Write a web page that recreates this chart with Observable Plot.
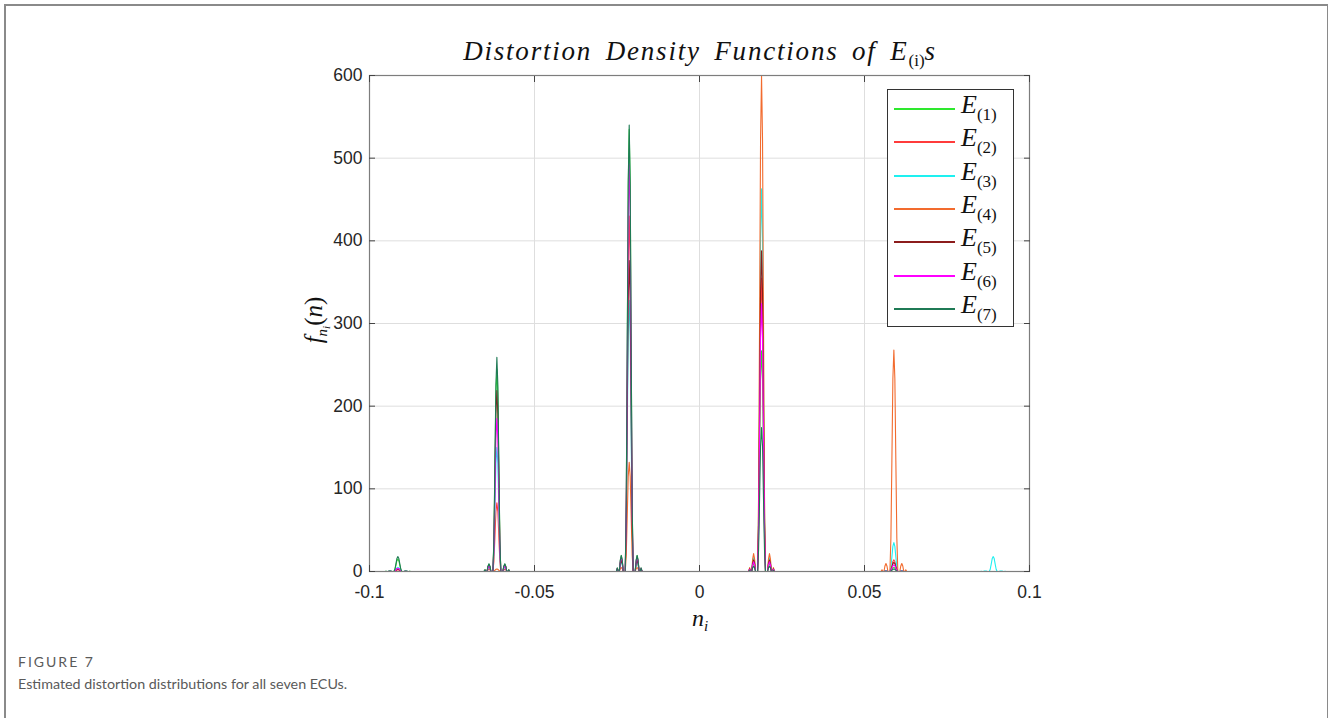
<!DOCTYPE html>
<html>
<head>
<meta charset="utf-8">
<script src="https://cdn.jsdelivr.net/npm/d3@7"></script>
<script src="https://cdn.jsdelivr.net/npm/@observablehq/plot@0.6"></script>
<style>
  html, body { margin: 0; padding: 0; background: #fff; }
  #page { position: relative; width: 1328px; height: 718px; overflow: hidden; }
  #border { position: absolute; left: 4px; top: 4px; width: 1321px; height: 740px;
            border-left: 2px solid #8a8a8a; border-top: 2px solid #8a8a8a; border-right: 2px solid #8a8a8a; }
  #chart { position: absolute; left: 0; top: 0; }
  .math { font-family: "Liberation Serif", "Times New Roman", serif; color: #111; position: absolute; white-space: nowrap; }
  .it { font-style: italic; }
  #title { left: 0; width: 1400px; text-align: center; top: 36px; font-size: 27px; font-style: italic; letter-spacing: 1.8px; word-spacing: 5px; }
  #title sub { font-size: 17px; font-style: normal; vertical-align: -6px; letter-spacing: 0; }
  #ylab { left: 316px; top: 320px; font-size: 25px; transform: translate(-50%, -50%) rotate(-90deg); }
  #xlab { left: 700px; top: 620px; font-size: 24px; transform: translate(-50%, -50%); }
  #legend { position: absolute; left: 887px; top: 89px; width: 125px; height: 236px; border: 1px solid #333; background: #fff; }
  .lg-item { position: absolute; left: 0; height: 30px; width: 125px; }
  .lg-line { position: absolute; left: 6px; width: 61px; top: 14px; height: 2px; }
  .lg-text { left: 73px; top: -4px; font-size: 26px; }
  .lg-text sub { font-size: 17px; font-style: normal; vertical-align: -7px; }
  #cap1 { position: absolute; left: 18px; top: 653px; font-family: "Lato", sans-serif; font-size: 14px; color: #5a5a5a; letter-spacing: 2px; }
  #cap2 { position: absolute; left: 18px; top: 675px; font-family: "Lato", sans-serif; font-size: 14.3px; color: #5a5a5a; }
</style>
</head>
<body>
<div id="page">
  <div id="border"></div>
  <div id="chart"></div>
  <div id="title" class="math">Distortion Density Functions of E<sub>(i)</sub>s</div>
  <div id="ylab" class="math"><span class="it">f</span><sub style="font-size:15px;vertical-align:-5px"><span class="it">n</span><sub class="it" style="font-size:11px;vertical-align:-3px">i</sub></sub>(<span class="it">n</span>)</div>
  <div id="xlab" class="math"><span class="it">n</span><sub class="it" style="font-size:15px;vertical-align:-5px">i</sub></div>
  <div id="legend"></div>
  <div id="cap1">FIGURE 7</div>
  <div id="cap2">Estimated distortion distributions for all seven ECUs.</div>
</div>
<script>
// ---- data ----
const seriesNames = ["E(1)", "E(2)", "E(3)", "E(4)", "E(5)", "E(6)", "E(7)"];
const seriesSubs = ["(1)", "(2)", "(3)", "(4)", "(5)", "(6)", "(7)"];
const seriesColors = ["#2ee82e", "#ff3b3b", "#1ef0f0", "#f26b2e", "#8c1c1c", "#ff00ff", "#1f7a55"];

// centres of the distortion peaks (n_i)
const peakCenters = [-0.0914, -0.0614, -0.0213, 0.0188, 0.0589, 0.089];

// peak heights per series, one value per peak centre
const heightsE1 = [15, 245, 535, 267, 5, 0];
const heightsE2 = [2, 83, 430, 355, 14, 0];
const heightsE3 = [5, 150, 328, 463, 35, 18];
const heightsE4 = [0, 3, 132, 600, 268, 0];
const heightsE5 = [3, 219, 376, 388, 11, 0];
const heightsE6 = [4, 185, 493, 324, 8, 0];
const heightsE7 = [18, 259, 540, 174, 3, 0];
const peakHeights = [heightsE1, heightsE2, heightsE3, heightsE4, heightsE5, heightsE6, heightsE7];

// peak profile: offset from centre and relative height
const profileOffsets = [-0.0045, -0.0039, -0.0036, -0.0033, -0.0030, -0.0027, -0.0024, -0.0021, -0.0018, -0.0012, -0.0009, -0.0006, -0.0003, 0,
                        0.0003, 0.0006, 0.0009, 0.0012, 0.0018, 0.0021, 0.0024, 0.0027, 0.0030, 0.0033, 0.0036, 0.0039, 0.0045];
const profileShape   = [0, 0, 0.008, 0, 0, 0.025, 0.036, 0.025, 0, 0, 0.15, 0.5, 0.87, 1,
                        0.87, 0.5, 0.15, 0, 0, 0.025, 0.036, 0.025, 0, 0, 0.008, 0, 0];

const xDomain = [-0.1, 0.1];
const yDomain = [0, 600];
const xTicks = [-0.1, -0.05, 0, 0.05, 0.1];
const xTickLabels = ["-0.1", "-0.05", "0", "0.05", "0.1"];
const yTicks = [0, 100, 200, 300, 400, 500, 600];

// ---- build the table ----
const data = [];
seriesNames.forEach((name, si) => {
  const pts = [[xDomain[0], 0]];
  peakCenters.forEach((c, pi) => {
    const h = peakHeights[si][pi];
    profileOffsets.forEach((o, k) => pts.push([c + o, h * profileShape[k]]));
  });
  pts.push([xDomain[1], 0]);
  pts.sort((a, b) => a[0] - b[0]);
  pts.forEach(p => data.push({series: name, x: p[0], y: p[1]}));
});

const tickColor = "#444";
const chart = Plot.plot({
  width: 1328,
  height: 640,
  marginLeft: 369,
  marginRight: 299,
  marginTop: 75,
  marginBottom: 69,
  x: {domain: xDomain},
  y: {domain: yDomain},
  color: {domain: seriesNames, range: seriesColors},
  style: {fontFamily: "'Liberation Sans', Arial, sans-serif", fontSize: "17.5px", color: "#262626", background: "transparent"},
  marks: [
    Plot.gridX(xTicks, {stroke: "#dedede", strokeOpacity: 1}),
    Plot.gridY(yTicks, {stroke: "#dedede", strokeOpacity: 1}),
    Plot.lineY(data, {x: "x", y: "y", z: "series", stroke: "series", strokeWidth: 1.1}),
    Plot.frame({stroke: "#7d7d7d", strokeWidth: 1.2}),
    Plot.axisX(xTicks, {anchor: "bottom", tickSize: -6, tickPadding: 20, stroke: tickColor, tickFormat: (d, i) => xTickLabels[i], label: null}),
    Plot.axisX(xTicks, {anchor: "top", tickSize: -6, stroke: tickColor, tickFormat: () => "", label: null}),
    Plot.axisY(yTicks, {anchor: "left", tickSize: -6, tickPadding: 13, stroke: tickColor, label: null}),
    Plot.axisY(yTicks, {anchor: "right", tickSize: -6, stroke: tickColor, tickFormat: () => "", label: null})
  ]
});
document.getElementById("chart").appendChild(chart);

// ---- legend ----
const legend = document.getElementById("legend");
seriesNames.forEach((name, i) => {
  const item = document.createElement("div");
  item.className = "lg-item";
  item.style.top = Math.round(4 + i * 33.33) + "px";
  const line = document.createElement("div");
  line.className = "lg-line";
  line.style.background = seriesColors[i];
  const txt = document.createElement("div");
  txt.className = "math lg-text";
  txt.innerHTML = '<span class="it">E</span><sub>' + seriesSubs[i] + '</sub>';
  item.appendChild(line);
  item.appendChild(txt);
  legend.appendChild(item);
});
</script>
</body>
</html>
